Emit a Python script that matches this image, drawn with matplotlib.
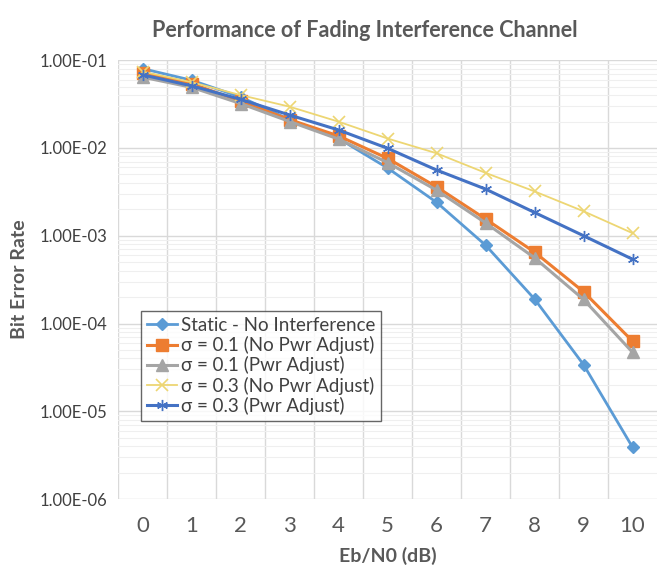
import matplotlib.pyplot as plt
from matplotlib.ticker import FixedLocator, LogLocator, NullFormatter

plt.rcParams['font.family'] = ['Lato', 'DejaVu Sans']

ebn0 = [0, 1, 2, 3, 4, 5, 6, 7, 8, 9, 10]
static = [0.080, 0.059, 0.038, 0.021, 0.0128, 0.0059, 0.0024, 0.00078, 0.00019, 3.4e-5, 3.9e-6]
s01_no_adj = [0.072, 0.054, 0.034, 0.021, 0.0137, 0.0076, 0.0036, 0.00155, 0.00065, 0.00023, 6.3e-5]
s01_adj = [0.064, 0.049, 0.032, 0.020, 0.0126, 0.0068, 0.0033, 0.0014, 0.00056, 0.000188, 4.7e-5]
s03_no_adj = [0.074, 0.056, 0.040, 0.0295, 0.0199, 0.0128, 0.0087, 0.0052, 0.0032, 0.0019, 0.00107]
s03_adj = [0.068, 0.051, 0.0357, 0.0237, 0.0160, 0.0099, 0.0056, 0.0034, 0.00184, 0.0010, 0.00054]

labels = ['Static - No Interference', 'σ = 0.1 (No Pwr Adjust)', 'σ = 0.1 (Pwr Adjust)',
          'σ = 0.3 (No Pwr Adjust)', 'σ = 0.3 (Pwr Adjust)']
y_ticks = [1e-1, 1e-2, 1e-3, 1e-4, 1e-5, 1e-6]

fig = plt.figure(figsize=(6.57, 5.73), dpi=100)
ax = fig.add_axes([0.18, 0.129, 0.82, 0.766])

ax.plot(ebn0, static, color='#5B9BD5', marker='D', markersize=6, lw=2, label=labels[0])
ax.plot(ebn0, s01_no_adj, color='#ED7D31', marker='s', markersize=8, lw=2.2, label=labels[1])
ax.plot(ebn0, s01_adj, color='#A5A5A5', marker='^', markersize=8, lw=2.2, label=labels[2])
ax.plot(ebn0, s03_no_adj, color='#EDD673', marker='x', markersize=9, mew=1.2, lw=1.3, label=labels[3])
ax.plot(ebn0, s03_adj, color='#4472C4', marker=(6, 2, 0), markersize=8, mew=1, lw=2.2, label=labels[4])

ax.set_yscale('log')
ax.set_ylim(1e-6, 1e-1)
ax.set_xlim(-0.5, 10.5)
ax.yaxis.set_major_locator(FixedLocator(y_ticks))
ax.set_yticklabels(['%.2E' % v for v in y_ticks])
ax.yaxis.set_minor_locator(LogLocator(base=10, subs=range(2, 10)))
ax.yaxis.set_minor_formatter(NullFormatter())
ax.set_xticks(ebn0)
ax.set_xticks([x + 0.5 for x in ebn0[:-1]] + [-0.5], minor=True)

ax.grid(which='major', axis='y', color='#D9D9D9', lw=1)
ax.grid(which='minor', axis='y', color='#EFEFEF', lw=0.8)
ax.grid(which='minor', axis='x', color='#D9D9D9', lw=1)
ax.set_axisbelow(True)
for s in ax.spines.values():
    s.set_visible(False)
ax.tick_params(which='both', length=0)
ax.tick_params(axis='x', labelsize=16, labelcolor='#595959', pad=12)
ax.tick_params(axis='y', labelsize=12, labelcolor='#404040', pad=8)

ax.set_xlabel('Eb/N0 (dB)', fontsize=14, fontweight='bold', color='#595959', labelpad=8)
ax.set_ylabel('Bit Error Rate', fontsize=14, fontweight='bold', color='#595959', labelpad=8)
fig.suptitle('Performance of Fading Interference Channel', x=0.555, y=0.965,
             fontsize=15.5, fontweight='bold', color='#595959')

leg = ax.legend(loc='upper left', bbox_to_anchor=(0.215, 0.457), bbox_transform=fig.transFigure,
                fontsize=13.5, frameon=True, fancybox=False, handlelength=1.6,
                handletextpad=0.2, borderpad=0.3, labelspacing=0.12, borderaxespad=0)
leg.get_frame().set_edgecolor('#404040')
leg.get_frame().set_linewidth(1)
for t in leg.get_texts():
    t.set_color('#404040')

fig.savefig('out.png')
